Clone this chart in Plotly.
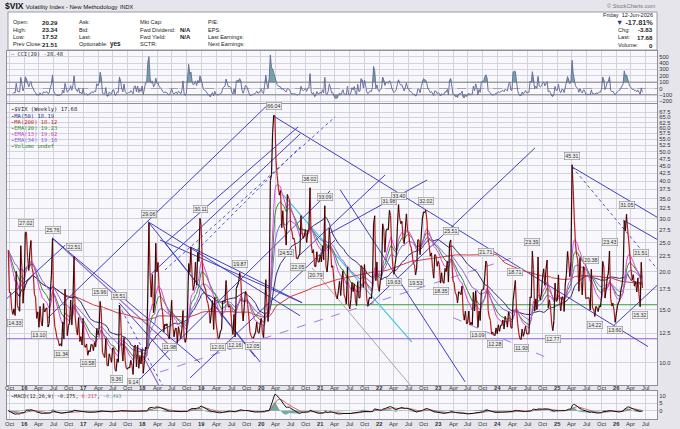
import numpy as np
import pandas as pd
import plotly.graph_objects as go

# ---------------- weekly closes of $VIX ----------------
close_2015 = [23.62, 17.08, 17.08, 15.05, 14.46, 15.07, 14.33, 20.08, 15.47, 15.12, 14.81, 24.39, 20.70, 15.74, 18.21]
close_2016 = [27.01, 27.02, 22.34, 20.20, 23.38, 25.40, 20.53, 19.81, 16.86, 16.50, 14.02, 14.74, 13.10, 15.36, 13.62, 13.22,
              15.70, 14.72, 15.04, 15.20, 13.12, 13.47, 17.03, 19.41, 25.76, 14.77, 13.20, 12.67, 12.02, 11.87, 11.39, 11.55,
              11.34, 13.65, 11.98, 17.50, 15.37, 12.29, 13.29, 13.48, 16.12, 13.34, 16.19, 22.51, 14.17, 12.85, 12.34, 14.12,
              11.75, 12.20, 11.44, 14.04]
close_2017 = [11.32, 11.23, 11.54, 10.58, 10.97, 10.85, 11.49, 11.47, 10.96, 11.66, 11.28, 12.96, 12.37, 12.87, 15.96, 14.63,
              10.82, 10.57, 10.40, 12.04, 9.81, 9.75, 10.70, 10.38, 10.02, 11.18, 11.19, 9.51, 9.36, 10.29, 10.03, 15.51,
              14.26, 11.28, 10.13, 12.12, 10.17, 9.59, 9.51, 9.65, 9.61, 10.18, 9.80, 9.14, 11.29, 11.43, 9.67, 11.43,
              9.58, 10.49, 9.90, 11.04]
close_2018 = [9.22, 10.16, 11.27, 11.08, 17.31, 29.06, 19.46, 16.49, 19.59, 14.64, 15.80, 24.87, 19.97, 21.49, 17.41, 16.88,
              15.41, 14.77, 12.65, 13.42, 13.22, 13.46, 12.18, 11.98, 13.77, 16.09, 13.37, 12.18, 12.86, 13.03, 11.64, 13.16,
              12.64, 11.99, 12.86, 14.88, 12.07, 11.68, 12.12, 14.82, 21.31, 19.89, 24.16, 19.51, 17.36, 18.14, 21.52, 18.07,
              23.23, 21.63, 30.11, 28.34]
close_2019 = [21.38, 18.19, 17.80, 17.42, 16.14, 15.72, 14.91, 13.51, 14.63, 16.05, 12.88, 16.48, 13.71, 12.82, 12.01, 12.09,
              12.73, 12.87, 16.04, 15.96, 15.85, 18.71, 16.30, 15.28, 15.40, 15.08, 13.28, 12.39, 14.45, 12.16, 17.61, 17.97,
              18.47, 19.87, 18.98, 15.00, 13.74, 15.32, 17.22, 17.04, 15.58, 14.25, 12.65, 12.30, 12.07, 12.05, 12.34, 12.62,
              13.62, 12.63, 12.51, 13.43]
close_2020 = [14.02, 12.56, 12.10, 14.56, 18.84, 15.47, 13.68, 17.08, 40.11, 41.94, 57.83, 66.04, 65.54, 46.80, 41.67, 38.15,
              35.93, 37.19, 27.98, 31.89, 28.16, 27.51, 24.52, 36.09, 35.12, 34.73, 27.68, 27.29, 25.68, 25.84, 24.46, 22.21,
              22.05, 22.54, 22.96, 30.75, 26.87, 25.83, 26.38, 27.63, 25.00, 27.41, 27.55, 38.02, 24.86, 23.10, 23.70, 20.84,
              20.79, 23.31, 21.57, 21.53]
close_2021 = [22.75, 21.56, 24.34, 21.91, 33.09, 20.87, 19.97, 22.05, 27.95, 24.66, 20.69, 20.95, 18.86, 17.33, 16.69, 16.25,
              17.33, 18.61, 16.69, 18.81, 20.15, 16.76, 16.42, 15.65, 20.70, 15.62, 15.07, 16.18, 18.45, 17.20, 18.24, 16.15,
              15.45, 18.56, 16.39, 16.41, 20.95, 20.81, 17.75, 21.15, 18.77, 16.30, 15.43, 16.26, 16.48, 16.29, 17.91, 28.62,
              30.67, 18.69, 21.57, 17.96, 17.22]
close_2022 = [18.76, 19.19, 28.85, 27.66, 23.22, 27.36, 27.75, 27.59, 31.98, 30.75, 23.87, 20.81, 19.63, 21.16, 22.70, 28.21,
              33.40, 30.19, 28.87, 29.43, 25.72, 24.79, 27.75, 31.13, 27.23, 26.70, 24.64, 24.23, 23.03, 21.33, 21.15, 19.53,
              20.60, 25.56, 25.47, 22.79, 26.30, 29.92, 31.62, 31.36, 32.02, 29.69, 25.75, 24.55, 22.52, 23.12, 20.50, 19.06,
              22.83, 22.62, 20.87, 21.67]
close_2023 = [21.13, 18.35, 19.85, 18.51, 18.33, 20.53, 20.02, 21.67, 18.49, 24.80, 25.51, 21.74, 18.70, 18.40, 17.07, 16.77,
              15.78, 17.19, 17.03, 16.81, 17.95, 14.60, 13.83, 14.82, 13.44, 13.59, 14.83, 13.34, 13.60, 13.33, 17.10, 14.84,
              17.30, 15.68, 13.09, 14.84, 13.79, 17.20, 17.52, 17.45, 19.32, 21.71, 21.27, 14.91, 14.17, 13.80, 12.46, 12.63,
              12.35, 12.28, 13.03, 12.45]
close_2024 = [13.35, 12.70, 13.30, 13.26, 13.85, 12.93, 14.24, 13.75, 13.11, 14.74, 14.41, 13.06, 13.01, 16.03, 17.31, 18.71,
              15.03, 13.49, 12.55, 11.99, 11.93, 12.92, 12.22, 12.66, 13.20, 12.44, 12.48, 12.46, 16.52, 16.39, 23.39, 20.37,
              14.80, 16.27, 15.00, 22.38, 16.56, 16.15, 16.96, 19.21, 20.46, 18.03, 20.33, 21.88, 15.20, 16.14, 15.24, 13.51,
              12.77, 13.81, 18.36, 15.95]
close_2025 = [16.13, 19.54, 15.97, 14.85, 16.43, 16.54, 14.77, 18.21, 19.63, 23.37, 21.77, 19.28, 21.65, 45.31, 37.56, 29.65,
              24.84, 22.68, 21.90, 17.24, 22.29, 18.57, 16.77, 20.82, 20.62, 16.32, 16.38, 16.40, 16.41, 14.93, 20.38, 15.15,
              15.09, 14.22, 15.36, 15.18, 14.76, 15.45, 15.29, 16.65, 21.66, 20.78, 16.37, 17.44, 19.08, 19.83, 23.43, 16.35,
              15.41, 15.74, 14.91, 13.60]
close_2026 = [14.51, 15.45, 15.86, 16.09, 17.44, 18.02, 19.67, 29.49, 27.30, 31.05, 27.60, 25.10, 22.48, 20.31, 18.79, 19.56,
              17.92, 18.55, 17.15, 19.10, 16.80, 15.32, 21.51, 17.68]

close = (close_2015 + close_2016 + close_2017 + close_2018 + close_2019 + close_2020 +
         close_2021 + close_2022 + close_2023 + close_2024 + close_2025 + close_2026)
dates = pd.date_range("2015-09-25", periods=len(close), freq="W-FRI")

# annotated highs / lows
peak_dates = ["2016-01-15", "2016-06-24", "2016-11-04", "2017-04-14", "2017-08-11", "2018-02-09", "2018-12-21",
              "2019-08-23", "2020-03-20", "2020-10-30", "2021-01-29", "2022-03-04", "2022-04-29", "2022-10-14",
              "2023-03-17", "2023-10-20", "2024-04-19", "2024-08-02", "2025-04-04", "2025-08-01", "2025-11-21",
              "2026-03-06", "2026-06-05"]
trough_dates = ["2015-11-06", "2016-04-01", "2016-08-19", "2017-01-27", "2017-07-21", "2017-11-03", "2018-06-15",
                "2019-04-12", "2019-07-26", "2019-11-15", "2020-06-05", "2020-08-14", "2020-12-04", "2022-04-01",
                "2022-08-12", "2023-01-13", "2023-09-01", "2023-12-15", "2024-05-24", "2024-12-06", "2025-08-22",
                "2025-12-26", "2026-05-29"]

# hand-drawn trend lines: (start date, start value, end date, end value)
trend_blue = [
    ("2016-05-28", 14.1, "2021-01-13", 107.0),
    ("2015-09-05", 16.1, "2016-09-10", 24.5),
    ("2017-11-27", 8.63, "2021-03-03", 37.1),
    ("2018-02-16", 19.5, "2020-08-30", 57.3),
    ("2018-10-21", 8.90, "2021-04-03", 25.5),
    ("2018-05-19", 24.9, "2020-08-18", 60.5),
    ("2020-08-30", 22.8, "2022-02-05", 41.9),
    ("2021-10-18", 15.3, "2024-08-18", 51.5),
    ("2021-03-03", 26.9, "2022-10-22", 40.3),
    ("2025-12-19", 13.3, "2026-09-28", 18.4),
    ("2016-06-22", 25.9, "2018-12-22", 9.98),
    ("2017-08-08", 15.8, "2018-06-19", 10.2),
    ("2018-02-04", 29.3, "2020-08-30", 14.3),
    ("2018-04-18", 25.5, "2020-09-11", 15.8),
    ("2018-10-21", 24.2, "2020-09-11", 15.8),
    ("2018-02-04", 29.3, "2019-12-27", 10.05),
    ("2018-05-19", 24.9, "2019-11-26", 10.45),
    ("2020-03-16", 65.8, "2026-07-17", 11.3),
    ("2021-05-04", 37.4, "2023-06-14", 8.63),
    ("2025-04-05", 44.5, "2026-09-28", 29.95),
    ("2026-02-13", 29.7, "2026-09-28", 25.3),
]
trend_blue_dotted = [
    ("2018-12-03", 23.6, "2020-08-30", 51.9),
    ("2018-05-19", 20.3, "2021-04-03", 65.3),
    ("2025-04-05", 44.5, "2026-09-16", 20.3),
    ("2017-08-08", 15.5, "2018-05-19", 8.12),
]
trend_violet = [
    ("2015-09-01", 12.0, "2026-10-01", 12.0),
    ("2016-06-22", 25.9, "2018-07-20", 11.0),
    ("2017-12-16", 11.0, "2018-06-07", 7.35),
]
trend_violet_dashed = [
    ("2018-04-18", 9.31, "2024-04-17", 22.4),
    ("2023-04-01", 14.1, "2024-10-19", 10.45),
]
trend_cyan = [("2020-05-17", 36.0, "2022-07-21", 11.7)]
trend_gray = [("2020-11-11", 20.6, "2023-02-22", 6.03)]
trend_green = [("2020-01-26", 15.55, "2026-10-01", 15.55)]

# ---------------- indicators ----------------
s = pd.Series(close, index=dates)
ma50 = s.rolling(50, min_periods=8).mean()
ma200 = s.rolling(200, min_periods=8).mean()
ema13 = s.ewm(span=13, adjust=False).mean()
ema20 = s.ewm(span=20, adjust=False).mean()
ema34 = s.ewm(span=34, adjust=False).mean()

sma20 = s.rolling(20, min_periods=5).mean()
mdev = s.rolling(20, min_periods=5).apply(lambda a: np.mean(np.abs(a - a.mean())), raw=True)
cci = (s - sma20) / (0.015 * mdev)

macd = s.ewm(span=12, adjust=False).mean() - s.ewm(span=26, adjust=False).mean()
signal = macd.ewm(span=9, adjust=False).mean()
hist = macd - signal

# ---------------- figure ----------------
W, H = 680, 429
X0, X1 = 7 / W, 657 / W
XR = ["2015-09-17", "2026-09-10"]

fig = go.Figure()

# CCI panel
fig.add_trace(go.Scatter(x=dates, y=np.full(len(dates), 100.0), mode="lines", line=dict(width=0),
                         xaxis="x", yaxis="y", hoverinfo="skip"))
fig.add_trace(go.Scatter(x=dates, y=np.maximum(cci.values, 100.0), mode="lines", line=dict(width=0),
                         fill="tonexty", fillcolor="rgba(70,140,140,0.75)", xaxis="x", yaxis="y"))
fig.add_trace(go.Scatter(x=dates, y=np.full(len(dates), -100.0), mode="lines", line=dict(width=0),
                         xaxis="x", yaxis="y", hoverinfo="skip"))
fig.add_trace(go.Scatter(x=dates, y=np.minimum(cci.values, -100.0), mode="lines", line=dict(width=0),
                         fill="tonexty", fillcolor="rgba(70,140,140,0.75)", xaxis="x", yaxis="y"))
for lev, dash, col in [(100, "solid", "#707070"), (-100, "solid", "#707070"), (0, "dash", "#9a9a9a")]:
    fig.add_trace(go.Scatter(x=XR, y=[lev, lev], mode="lines", line=dict(color=col, width=0.8, dash=dash),
                             xaxis="x", yaxis="y"))
fig.add_trace(go.Scatter(x=dates, y=cci, mode="lines", line=dict(color="#6a709e", width=1),
                         xaxis="x", yaxis="y"))


def seg_xy(lines):
    xs, ys = [], []
    for a, va, b, vb in lines:
        xs += [a, b, None]
        ys += [va, vb, None]
    return xs, ys


# trend lines (under price)
for lines, col, dash, wid in [(trend_green, "#3a9a3a", "solid", 1.1),
                              (trend_gray, "#a8a8a8", "solid", 1),
                              (trend_cyan, "#3cc4e0", "solid", 1.1),
                              (trend_violet, "#9460c8", "solid", 1.1),
                              (trend_violet_dashed, "#a67ae0", "dash", 1),
                              (trend_blue_dotted, "#5050d0", "dot", 1),
                              (trend_blue, "#3f3fc6", "solid", 1)]:
    xs, ys = seg_xy(lines)
    fig.add_trace(go.Scatter(x=xs, y=ys, mode="lines", line=dict(color=col, width=wid, dash=dash),
                             xaxis="x2", yaxis="y2"))

# moving averages
for ser, col in [(ma200, "#d23a3a"), (ma50, "#2e2e78"), (ema34, "#8a62d8"), (ema20, "#2f8f2f"), (ema13, "#e044e0")]:
    fig.add_trace(go.Scatter(x=dates, y=ser, mode="lines", line=dict(color=col, width=1),
                             xaxis="x2", yaxis="y2"))

# price line: red on down weeks, black on up weeks
up_x, up_y, dn_x, dn_y = [], [], [], []
for i in range(1, len(close)):
    if close[i] >= close[i - 1]:
        up_x += [dates[i - 1], dates[i], None]
        up_y += [close[i - 1], close[i], None]
    else:
        dn_x += [dates[i - 1], dates[i], None]
        dn_y += [close[i - 1], close[i], None]
fig.add_trace(go.Scatter(x=dn_x, y=dn_y, mode="lines", line=dict(color="#b81c1c", width=1.2),
                         xaxis="x2", yaxis="y2"))
fig.add_trace(go.Scatter(x=up_x, y=up_y, mode="lines", line=dict(color="#2a0a0a", width=1.2),
                         xaxis="x2", yaxis="y2"))

# MACD panel
fig.add_trace(go.Scatter(x=dates, y=hist, mode="lines", line=dict(width=0), fill="tozeroy",
                         fillcolor="rgba(70,150,130,0.75)", xaxis="x3", yaxis="y3"))
fig.add_trace(go.Scatter(x=dates, y=signal, mode="lines", line=dict(color="#d06a6a", width=1),
                         xaxis="x3", yaxis="y3"))
fig.add_trace(go.Scatter(x=dates, y=macd, mode="lines", line=dict(color="#111111", width=1),
                         xaxis="x3", yaxis="y3"))

# ---------------- annotations ----------------
ann = []


def txt(x, y, s, size=5.6, color="#222", xanchor="left", family="Liberation Sans"):
    ann.append(dict(xref="paper", yref="paper", x=x / W, y=1 - y / H, text=s, showarrow=False,
                    xanchor=xanchor, yanchor="middle", font=dict(size=size, color=color, family=family)))


# price labels
for d in peak_dates + trough_dates:
    i = dates.get_indexer([pd.Timestamp(d)], method="nearest")[0]
    v = close[i]
    above = d in peak_dates
    ann.append(dict(xref="x2", yref="y2", x=dates[i], y=np.log10(v), text=f"{v:.2f}", showarrow=False,
                    yshift=5 if above else -4, yanchor="bottom" if above else "top",
                    font=dict(size=5.3, color="#333", family="Liberation Sans"),
                    bgcolor="#eeeeee", bordercolor="#8a8a8a", borderwidth=0.6, borderpad=0.6))

# x-axis date labels (below price panel and below MACD panel)
qt = pd.date_range("2015-10-01", "2026-07-01", freq="QS")
mon = {1: "", 4: "Apr", 7: "Jul", 10: "Oct"}
qtext = [f"<b>{d.year % 100:02d}</b>" if d.month == 1 else mon[d.month] for d in qt]
for ypix in (388.3, 423.8):
    for d, t in zip(qt, qtext):
        ann.append(dict(xref="x2", yref="paper", x=d, y=1 - ypix / H, text=t, showarrow=False,
                        xanchor="center", yanchor="middle",
                        font=dict(size=5.8, color="#333", family="Liberation Sans")))

# header
txt(3, 6, "<b>$VIX</b> <span style='font-size:6px'>Volatility Index - New Methodology</span> "
          "<span style='font-size:5.5px'>INDX</span>", size=8.5, color="#111")
txt(658, 6, "© StockCharts.com", size=5.6, color="#777", xanchor="right")
rows_y = [22, 29.5, 37, 44.5]
for y, lab, val in zip(rows_y, ["Open:", "High:", "Low:", "Prev Close:"], ["20.29", "23.34", "17.52", "21.51"]):
    txt(11, y, lab)
    txt(60, y, f"<b>{val}</b>", size=6.2, xanchor="right")
for y, lab in zip(rows_y, ["Ask:", "Bid:", "Last:", "Optionable:"]):
    txt(77, y, lab)
txt(108, rows_y[3], "<b>yes</b>", size=6.4)
for y, lab in zip(rows_y, ["Mkt Cap:", "Fwd Dividend:", "Fwd Yield:", "SCTR:"]):
    txt(138, y, lab)
txt(178, rows_y[1], "<b>N/A</b>", size=6)
txt(178, rows_y[2], "<b>N/A</b>", size=6)
for y, lab in zip(rows_y, ["P/E:", "EPS:", "Last Earnings:", "Next Earnings:"]):
    txt(206, y, lab)
txt(655, 15, "Friday  12-Jun-2026", size=5.6, xanchor="right")
txt(655, 22.5, "<span style='color:#2a3a6a'>▼</span> <b>-17.81%</b>", size=7.4, color="#333", xanchor="right")
for y, lab, val in zip([30, 37.5, 45], ["Chg:", "Last:", "Volume:"], ["-3.83", "17.68", "0"]):
    txt(616, y, lab)
    txt(655, y, f"<b>{val}</b>", size=6.2, xanchor="right")

mono = "DejaVu Sans Mono"
txt(9, 54.5, "<span style='color:#6a709e'>~</span> CCI(20) -28.48", size=5.4, color="#333", family=mono)
legend_rows = [("#111111", "$VIX (Weekly) 17.68", "#222"),
               ("#2e2e78", "MA(50) 18.19", "#2e2e78"),
               ("#d23a3a", "MA(200) 18.12", "#c02a2a"),
               ("#2f8f2f", "EMA(20) 19.23", "#2f8f2f"),
               ("#e044e0", "EMA(13) 19.02", "#d040d0"),
               ("#8a62d8", "EMA(34) 19.16", "#8a62d8"),
               ("#2f7f2f", "Volume undef", "#2f7f2f")]
for k, (ic, lab, tc) in enumerate(legend_rows):
    txt(9, 110 + 6 * k, f"<span style='color:{ic}'><b>-</b></span><span style='color:{tc}'>{lab}</span>",
        size=5.5, family=mono)
txt(9, 396, "<b>-</b>MACD(12,26,9) -0.275, <span style='color:#c05050'>0.217</span>, "
            "<span style='color:#5a9a9a'>-0.493</span>", size=5.1, color="#222", family=mono)

# ---------------- axes ----------------
grid = "#d3d3dd"
frame = "#8e8e9e"
xcommon = dict(range=XR, type="date", domain=[X0, X1], tickvals=qt, showgrid=True, showticklabels=False,
               gridcolor=grid, gridwidth=0.6, showline=True, mirror=True, linecolor=frame, linewidth=1,
               ticks="", zeroline=False)
ycommon = dict(side="right", showgrid=True, gridcolor=grid, gridwidth=0.6, showline=True, mirror=True,
               linecolor=frame, linewidth=1, ticks="", zeroline=False,
               tickfont=dict(size=5.8, color="#333", family="Liberation Sans"))

price_ticks = [10.0 + 2.5 * k for k in range(24)]

shapes = [
    dict(type="rect", xref="paper", yref="paper", x0=8 / W, x1=657 / W, y0=1 - 50 / H, y1=1 - 12 / H,
         fillcolor="#ffffff", line=dict(color="#9a9aaa", width=1), layer="below"),
]

fig.update_layout(
    width=W, height=H, margin=dict(l=0, r=0, t=0, b=0),
    paper_bgcolor="#e5e5eb", plot_bgcolor="#f8f8fc", showlegend=False,
    xaxis=dict(**xcommon, anchor="y"),
    yaxis=dict(**ycommon, domain=[1 - 103 / H, 1 - 51 / H], range=[-228, 590],
               tickvals=[-200, -100, 0, 100, 200, 300, 400, 500], anchor="x"),
    xaxis2=dict(**xcommon, anchor="y2", matches="x"),
    yaxis2=dict(**ycommon, type="log", domain=[1 - 385 / H, 1 - 104 / H],
                range=[np.log10(8.43), np.log10(72.0)], tickvals=price_ticks,
                ticktext=[f"{t:.1f}" for t in price_ticks], anchor="x2"),
    xaxis3=dict(**xcommon, anchor="y3", matches="x"),
    yaxis3=dict(**ycommon, domain=[1 - 419 / H, 1 - 391 / H], range=[-5.5, 13.1],
                tickvals=[0, 5, 10], anchor="x3"),
    annotations=ann, shapes=shapes,
)

fig.write_html("out.html", config={"displayModeBar": False},
               post_script="document.body.style.margin='0';document.body.style.overflow='hidden';")
